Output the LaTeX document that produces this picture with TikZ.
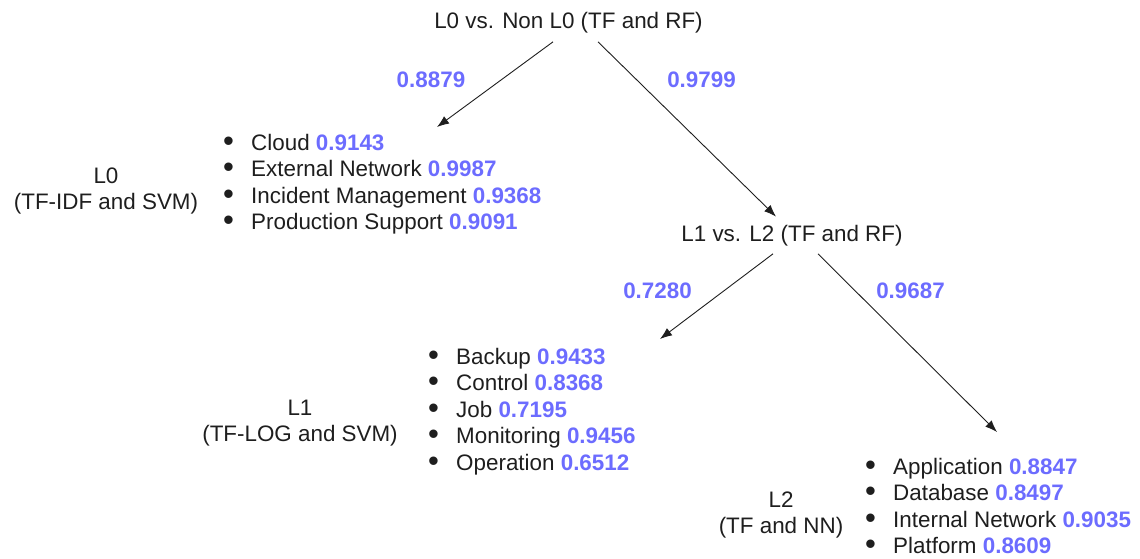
\documentclass[tikz,border=0pt]{standalone}
\usepackage{fontspec}
\setmainfont{Liberation Sans}
\usetikzlibrary{arrows.meta}
\definecolor{scoreblue}{RGB}{108,108,255}
\definecolor{inkgray}{RGB}{30,30,30}
\newcommand{\score}[1]{\textcolor{scoreblue}{\bfseries #1}}
\newcommand{\bul}{\makebox[28pt][l]{\smash{\raisebox{-1pt}{\fontsize{31}{31}\selectfont\textbullet}}}}
\begin{document}
\begin{tikzpicture}
	[x=1pt,y=-1pt,
	every node/.style={inner sep=0pt,text=inkgray,font=\fontsize{22.4}{26.5}\selectfont},
	split/.style={inner ysep=8pt},
	group/.style={anchor=base},
	cats/.style={anchor=base west},
	acc/.style={anchor=base,text=scoreblue,font=\fontsize{22.4}{26.5}\selectfont\bfseries},
	edge/.style={draw=inkgray,line width=0.9pt,-{Latex[length=12pt,width=9pt]}}]
	\useasboundingbox (0,0) rectangle (1140,559);

	\node[split,anchor=base] (root) at (568.5,29) {L0 vs. Non L0 (TF and RF)};
	\node[split,anchor=base] (l1l2) at (792,241) {L1 vs. L2 (TF and RF)};

	\node[group] (lzero) at (106,183) {\begin{tabular}[t]{@{}c@{}}L0\\(TF-IDF and SVM)\end{tabular}};
	\node[group] (lone) at (300,415) {\begin{tabular}[t]{@{}c@{}}L1\\(TF-LOG and SVM)\end{tabular}};
	\node[group] (ltwo) at (781,507) {\begin{tabular}[t]{@{}c@{}}L2\\(TF and NN)\end{tabular}};

	\node[cats] (catzero) at (223,150) {\begin{tabular}[t]{@{}l@{}}
		\bul Cloud \score{0.9143}\\
		\bul External Network \score{0.9987}\\
		\bul Incident Management \score{0.9368}\\
		\bul Production Support \score{0.9091}
	\end{tabular}};
	\node[cats] (catone) at (428,364) {\begin{tabular}[t]{@{}l@{}}
		\bul Backup \score{0.9433}\\
		\bul Control \score{0.8368}\\
		\bul Job \score{0.7195}\\
		\bul Monitoring \score{0.9456}\\
		\bul Operation \score{0.6512}
	\end{tabular}};
	\node[cats] (cattwo) at (865,474) {\begin{tabular}[t]{@{}l@{}}
		\bul Application \score{0.8847}\\
		\bul Database \score{0.8497}\\
		\bul Internal Network \score{0.9035}\\
		\bul Platform \score{0.8609}
	\end{tabular}};

	\node[acc] (acczero) at (431,88) {0.8879};
	\node[acc] (accnon) at (701.5,88) {0.9799};
	\node[acc] (accone) at (657.5,298) {0.7280};
	\node[acc] (acctwo) at (910.5,298) {0.9687};

	\coordinate (tipzero) at (437,127);
	\coordinate (tipone) at (660,339);
	\coordinate (tiptwo) at (997,432);

	\draw[edge] ([xshift=-15.5pt]root.south) -- (tipzero);
	\draw[edge] ([xshift=29.5pt]root.south) -- ([xshift=-16pt]l1l2.north);
	\draw[edge] ([xshift=-19pt]l1l2.south) -- (tipone);
	\draw[edge] ([xshift=26pt]l1l2.south) -- (tiptwo);
\end{tikzpicture}
\end{document}
